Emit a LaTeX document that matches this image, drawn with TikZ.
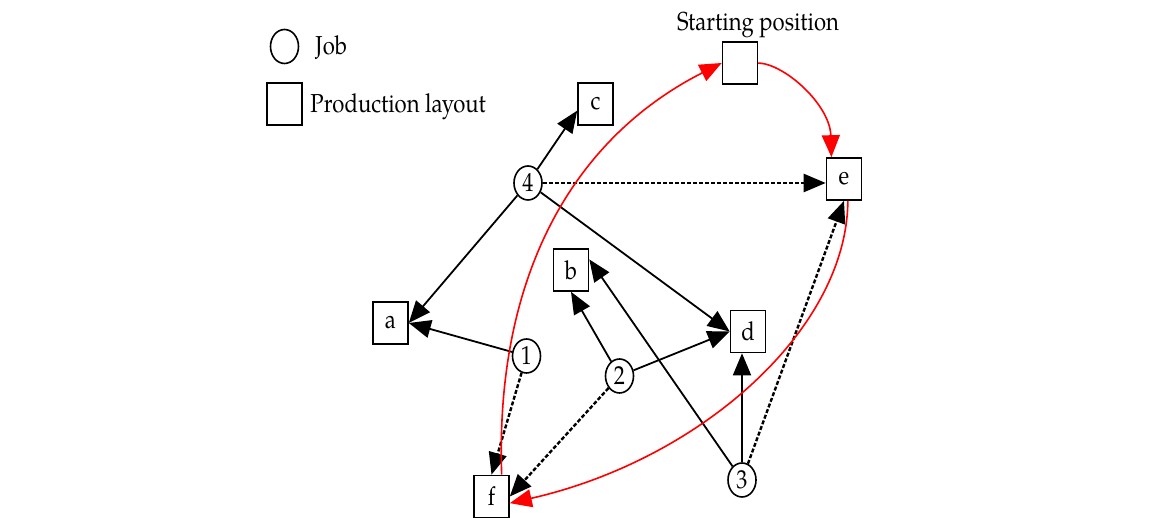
\documentclass[tikz,border=0pt]{standalone}
\usepackage{fontspec}
\setmainfont[FakeStretch=0.85]{TeX Gyre Pagella}
\usetikzlibrary{arrows.meta,shapes.geometric}

\tikzset{
  job/.style={draw, line width=0.8pt, ellipse, inner sep=0pt, minimum width=14pt, minimum height=17pt},
  layout/.style={draw, line width=0.8pt, rectangle, inner sep=0pt, minimum width=17.5pt, minimum height=21pt},
  link/.style={line width=0.9pt, -{Triangle[length=11pt,width=9pt]}},
  assign/.style={link, line width=1.2pt, dash pattern=on 2pt off 1pt},
  route/.style={link, red, line width=0.8pt},
}

\begin{document}
\begin{tikzpicture}[x=0.5pt,y=0.5pt,
  font=\fontsize{13}{15}\selectfont, % 正文字号
]
  \useasboundingbox (0,0) rectangle (1150,518);
  % legend
  \node[job] (legjob) at (284.5,471.5) {};
  \node[anchor=base west, inner sep=0pt] (joblbl) at (315,463) {Job};
  \node[layout] (leglayout) at (284.5,414) {};
  \node[anchor=base west, inner sep=0pt] (layoutlbl) at (310,405) {Production layout};
  % layouts
  \node[layout] (start) at (740,455) {};
  \node[anchor=base] (startlbl) at (758,487) {Starting position};
  \node[layout] (a) at (390.5,195) {a};
  \node[layout] (b) at (571,248) {b};
  \node[layout] (c) at (595.5,414) {c};
  \node[layout] (d) at (748,186.5) {d};
  \node[layout] (e) at (844,339) {e};
  \node[layout] (f) at (491.5,21.5) {f};
  % jobs
  \node[job] (n1) at (526.5,162) {1};
  \node[job] (n2) at (619.5,142) {2};
  \node[job] (n3) at (742,38) {3};
  \node[job] (n4) at (528,335) {4};
  % job -> layout
  \draw[link] (n4) -- (c.200);
  \draw[link] (n4) -- (a.east);
  \draw[link] (n4) -- (d.west);
  \draw[assign] (n4.east) -- (n4.east -| e.west);
  \draw[link] (n1) -- (a.east);
  \draw[assign] (n1) -- (f.north);
  \draw[link] (n2) -- (b.south);
  \draw[link] (n2) -- (d.west);
  \draw[assign] (n2) -- (f.east);
  \draw[link] (n3) -- (b.30);
  \draw[link] (n3.north) -- (n3.north |- d.south);
  \draw[assign] (n3) -- (e.south);
  % route
  \draw[route] (f.65) .. controls (495,238) and (570,378) .. (start.west);
  \draw[route] (start.east) .. controls (785,454) and (830,413) .. (e.120);
  \draw[route] (e.-80) .. controls (847,188) and (700,58) .. (f.-20);
\end{tikzpicture}
\end{document}
